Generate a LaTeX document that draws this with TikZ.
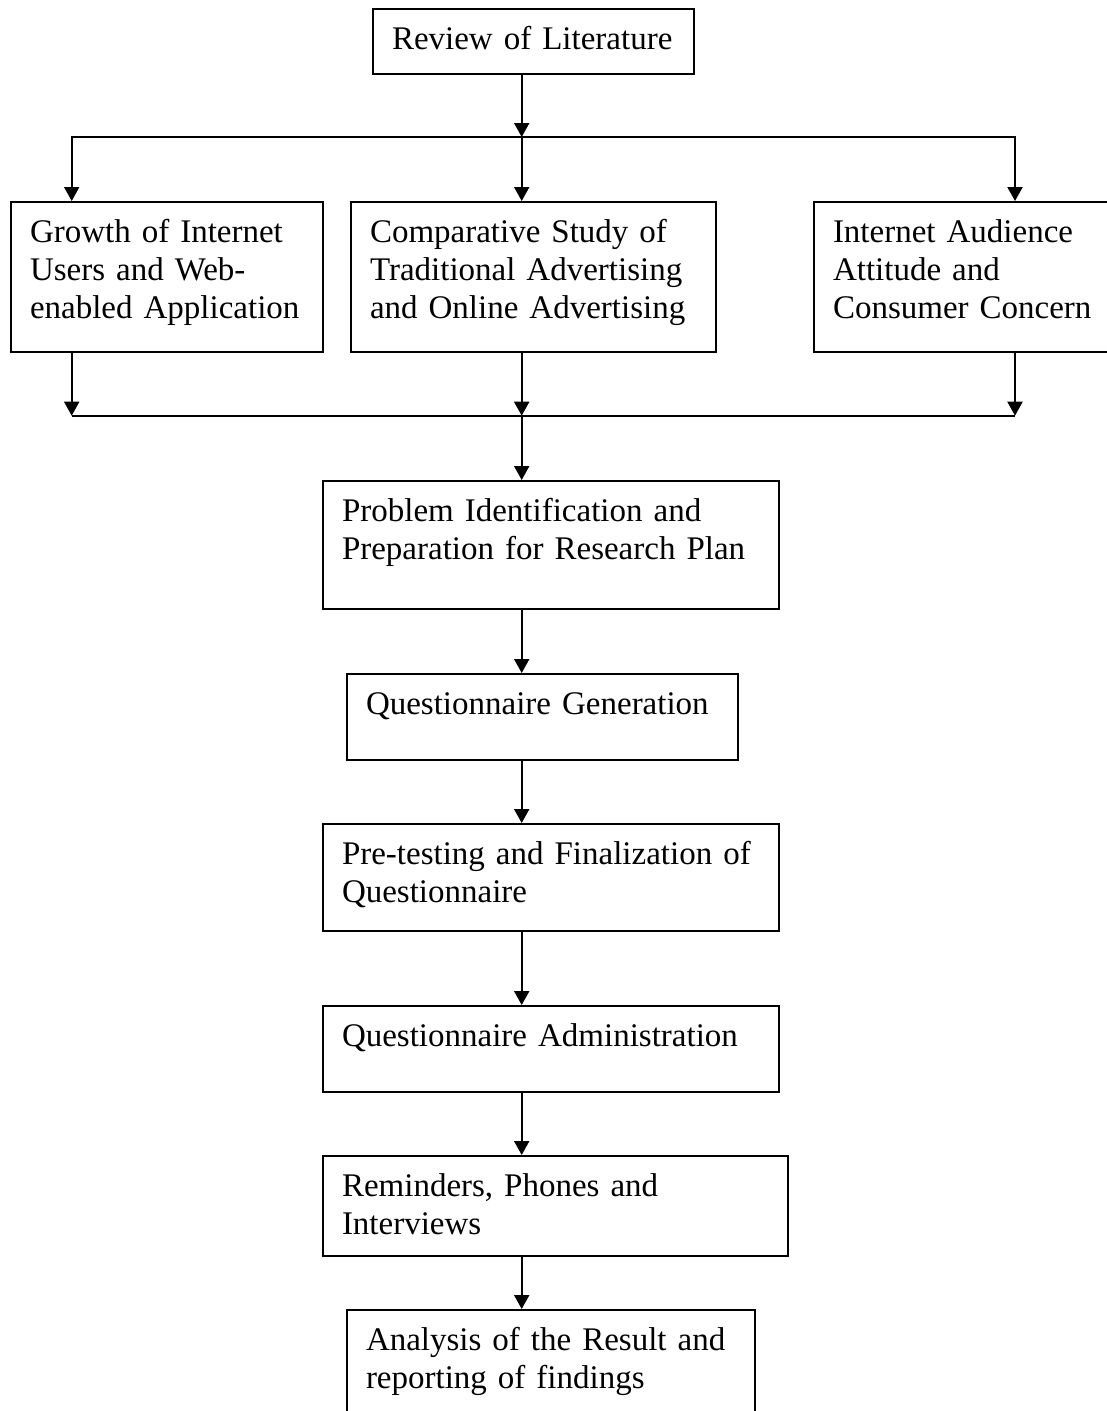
\documentclass[tikz,border=0pt]{standalone}
\usepackage{fontspec}
\setmainfont[WordSpace=0.8]{Liberation Serif}
\usetikzlibrary{arrows.meta}

\begin{document}
\begin{tikzpicture}[x=1pt, y=-1pt, >={Triangle[length=14pt, width=15pt]},
    stage/.style={draw, line width=2pt, anchor=north west, align=left,
        inner xsep=19pt, inner ysep=13pt, text height=27pt,
        font=\fontsize{33}{38}\selectfont},
    flow/.style={->, line width=2pt}]
    % Page frame (boxes on the right and bottom run off the edge)
    \path[use as bounding box, clip] (0,0) rectangle (1107,1411);

    % Top box
    \node[stage, text width=283pt, text depth=12pt] (review) at (372,8) {Review of Literature};

    % Three literature streams
    \node[stage, text width=274pt, text depth=97pt] (growth) at (10,201) {Growth of Internet\\Users and Web-\\enabled Application};
    \node[stage, text width=327pt, text depth=97pt] (compare) at (350,201) {Comparative Study of\\Traditional Advertising\\and Online Advertising};
    \node[stage, text width=277pt, text depth=97pt] (audience) at (813,201) {Internet Audience\\Attitude and\\Consumer Concern};

    % Research steps
    \node[stage, text width=418pt, text depth=75pt] (problem) at (322,480) {Problem Identification and\\Preparation for Research Plan};
    \node[stage, text width=353pt, text depth=33pt] (qgen) at (346,673) {Questionnaire Generation};
    \node[stage, text width=418pt, text depth=54pt] (pretest) at (322,823) {Pre-testing and Finalization of\\Questionnaire};
    \node[stage, text width=418pt, text depth=33pt] (admin) at (322,1005) {Questionnaire Administration};
    \node[stage, text width=427pt, text depth=47pt] (remind) at (322,1155) {Reminders, Phones and\\Interviews};
    \node[stage, text width=370pt, text depth=57pt] (analysis) at (346,1309) {Analysis of the Result and\\reporting of findings};

    % Split and join points
    \coordinate (split) at (521.7,137);
    \coordinate (splitL) at (71.7,137);
    \coordinate (splitR) at (1015,137);
    \coordinate (join) at (521.7,415.7);
    \coordinate (joinL) at (71.7,415.7);
    \coordinate (joinR) at (1015,415.7);

    % Fan out from the review
    \draw[flow] (split |- review.south) -- (split);
    \draw[flow] (split) -| (splitL |- growth.north);
    \draw[flow] (split) -- (split |- compare.north);
    \draw[flow] (split) -| (splitR |- audience.north);

    % Gather into the research plan
    \draw[flow] (joinL |- growth.south) -- (joinL);
    \draw[flow] (join |- compare.south) -- (join);
    \draw[flow] (joinR |- audience.south) -- (joinR);
    \draw[line width=2pt] (joinL) -- (joinR);
    \draw[flow] (join) -- (join |- problem.north);

    % Chain of steps
    \draw[flow] (join |- problem.south) -- (join |- qgen.north);
    \draw[flow] (join |- qgen.south) -- (join |- pretest.north);
    \draw[flow] (join |- pretest.south) -- (join |- admin.north);
    \draw[flow] (join |- admin.south) -- (join |- remind.north);
    \draw[flow] (join |- remind.south) -- (join |- analysis.north);
\end{tikzpicture}
\end{document}
